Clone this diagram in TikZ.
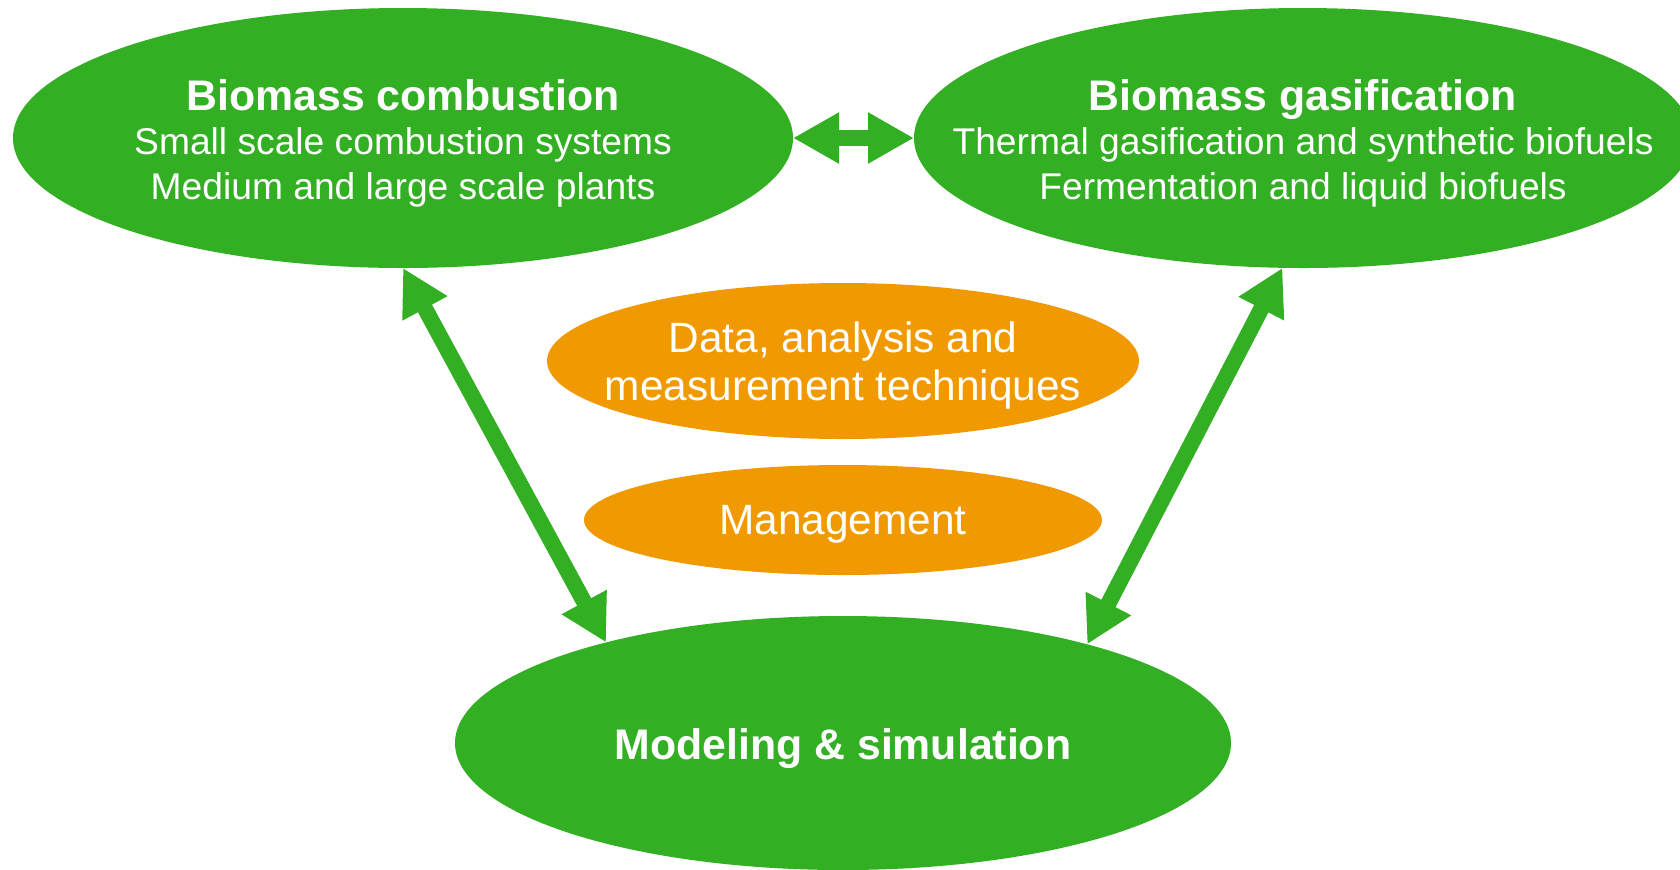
\documentclass[tikz,border=0pt]{standalone}
\usepackage{fontspec}
\setmainfont{Liberation Sans}
\usepackage{xcolor}
\usetikzlibrary{shapes.geometric,arrows.meta}
\definecolor{green}{RGB}{51,175,36}
\definecolor{orange}{RGB}{240,153,0}

\tikzset{
  topic/.style={ellipse, fill=green, inner sep=0pt, outer sep=0pt},
  tool/.style={ellipse, fill=orange, inner sep=0pt, outer sep=0pt},
  topictext/.style={text=white, align=center, yshift=-2.6pt,
    font=\fontsize{18.6}{22.3}\selectfont},
  tooltext/.style={text=white, align=center, yshift=-2.4pt,
    font=\fontsize{21.2}{24}\selectfont},
  link/.style={draw=green, line width=8pt,
    {Triangle[length=23pt,width=24pt]}-{Triangle[length=23pt,width=24pt]}},
}
\newcommand{\heading}[1]{{\bfseries\fontsize{21.4}{22.3}\selectfont #1}}

\begin{document}
\begin{tikzpicture}[x=0.5pt,y=0.5pt,yscale=-1]
\useasboundingbox (0,0) rectangle (1680,869);
\clip (0,0) rectangle (1680,869);

%Shape: Ellipse [comb]
\node[topic, minimum width=390pt, minimum height=130pt] (comb) at (403,138) {};
%Shape: Ellipse [gas]
\node[topic, minimum width=389pt, minimum height=130pt] (gas) at (1303,138) {};
%Shape: Ellipse [data]
\node[tool, minimum width=296pt, minimum height=78pt] (data) at (843,361) {};
%Shape: Ellipse [mgmt]
\node[tool, minimum width=259pt, minimum height=55pt] (mgmt) at (843,520) {};
%Shape: Ellipse [model]
\node[topic, minimum width=388pt, minimum height=127pt] (model) at (843,743) {};

% Text Node
\node[topictext] (comb-text) at (comb.center)
  {\heading{Biomass combustion}\\Small scale combustion systems\\Medium and large scale plants};
% Text Node
\node[topictext] (gas-text) at (gas.center)
  {\heading{Biomass gasification}\\Thermal gasification and synthetic biofuels\\Fermentation and liquid biofuels};
% Text Node
\node[tooltext] (data-text) at (data.center) {Data, analysis and\\measurement techniques};
% Text Node
\node[tooltext] (mgmt-text) at (mgmt.center) {Management};
% Text Node
\node[topictext] (model-text) at (model.center) {\heading{Modeling \& simulation}};

%Block Arrows
\draw[link] (comb.east) -- (gas.west);
\draw[link] (comb.south) -- (model.157);
\draw[link] (gas.-99) -- (model.22.5);
\end{tikzpicture}
\end{document}
